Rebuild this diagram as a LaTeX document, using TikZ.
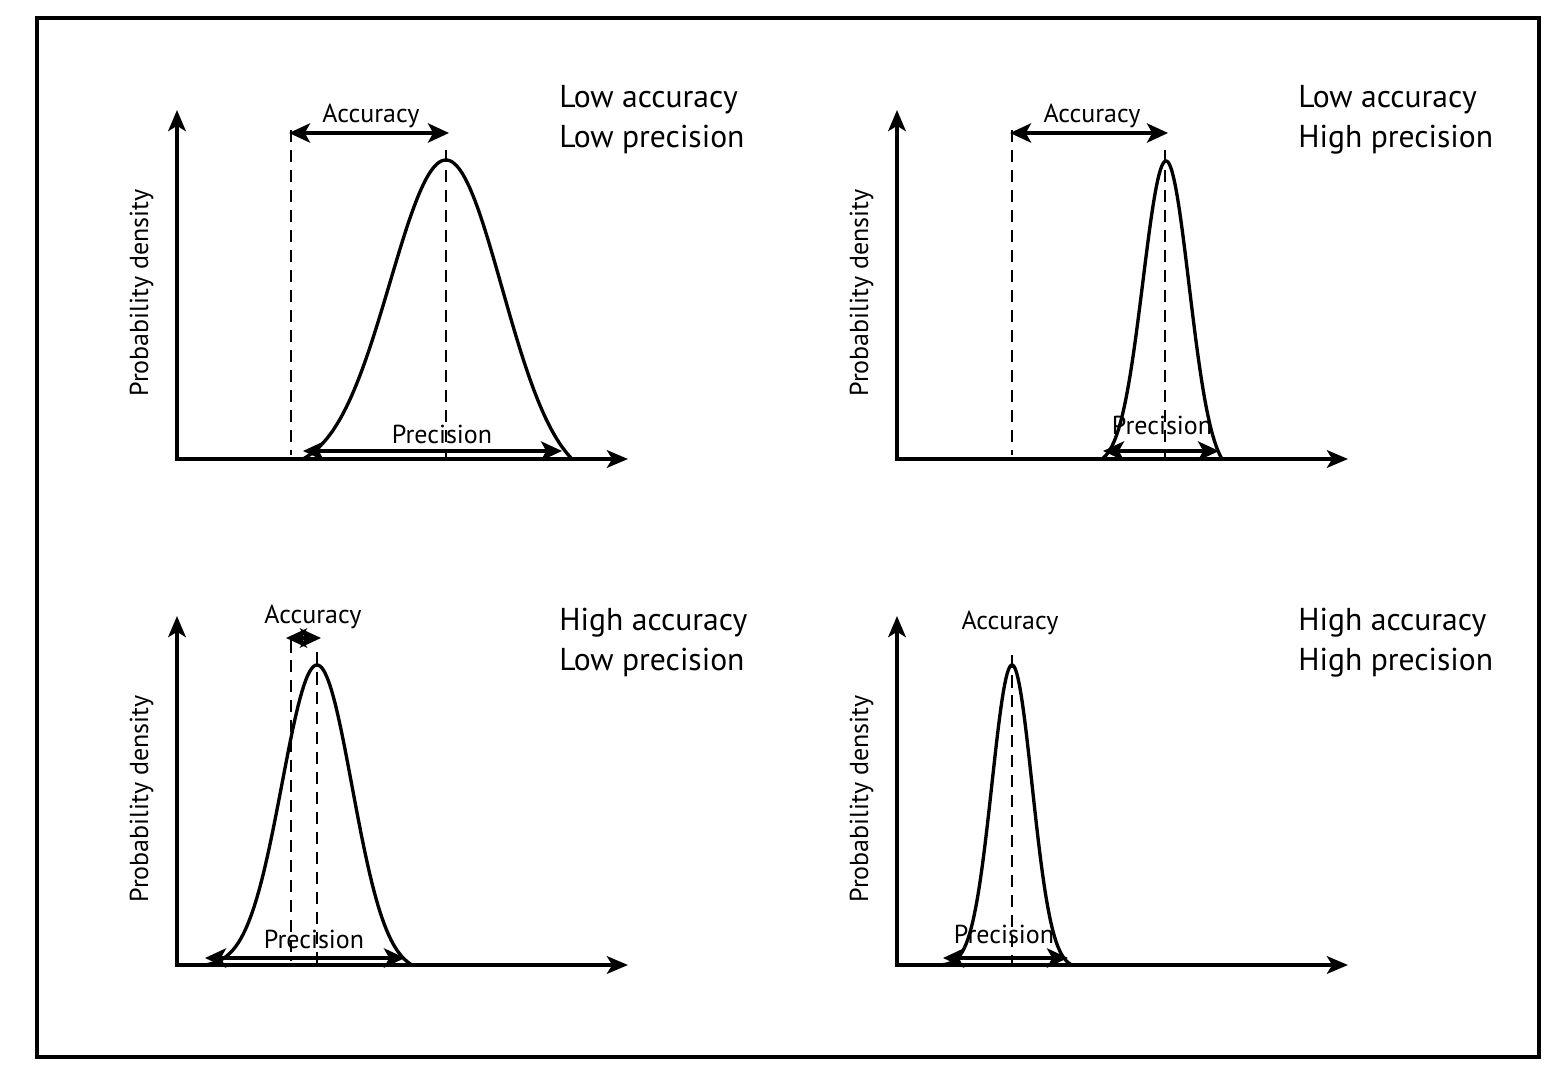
\documentclass[tikz,border=0pt]{standalone}
\usepackage{fontspec}
\setmainfont{PT Sans}
\usetikzlibrary{arrows.meta}

% bell curve: centre x, base y, height, sigma, left reach, right reach
\newcommand{\bell}[6]{%
\draw[curve] plot[domain=-#5:0, samples=60] ({#1+\x}, {#2-#3*(exp(-0.5*(\x/#4)*(\x/#4))-exp(-0.5*(#5/#4)*(#5/#4)))/(1-exp(-0.5*(#5/#4)*(#5/#4)))})
  -- plot[domain=0:#6, samples=60] ({#1+\x}, {#2-#3*(exp(-0.5*(\x/#4)*(\x/#4))-exp(-0.5*(#6/#4)*(#6/#4)))/(1-exp(-0.5*(#6/#4)*(#6/#4)))});
}

\begin{document}
\begin{tikzpicture}[x=0.02cm, y=-0.02cm,
  axis/.style={{Stealth[length=12pt,width=10pt,inset=3pt]}-{Stealth[length=12pt,width=10pt,inset=3pt]}, line width=2.1pt},
  span/.style={{Stealth[length=12pt,width=11pt,inset=3pt]}-{Stealth[length=12pt,width=11pt,inset=3pt]}, line width=1.9pt},
  curve/.style={line width=1.9pt, line join=round},
  guide/.style={line width=1.6pt, dash pattern=on 0.25cm off 0.15cm},
  lbl/.style={font=\fontsize{14.8}{17}\selectfont, inner sep=0pt, anchor=base},
  ttl/.style={font=\fontsize{18}{21}\selectfont, inner sep=0pt, anchor=base west}]
\useasboundingbox (0,0) rectangle (1561,1081);
\draw[line width=2pt] (37,18) rectangle (1539,1057);

% top left: low accuracy, low precision
\coordinate (o1) at (177,459);
\coordinate (ytop1) at (177,110);
\coordinate (xend1) at (628,459);
\draw[axis] (ytop1) -- (o1) -- (xend1);
\node[lbl, rotate=90] (yl1) at (148,293) {Probability density};
\bell{446}{459}{299}{56}{143}{126}
\coordinate (ref1a) at (291,130);
\coordinate (ref1b) at (291,455);
\coordinate (mid1a) at (446,150);
\coordinate (mid1b) at (446,457);
\draw[guide] (ref1a) -- (ref1b);
\draw[guide] (mid1a) -- (mid1b);
\coordinate (acc1l) at (289,133);
\coordinate (acc1r) at (449,133);
\draw[span] (acc1l) -- (acc1r);
\node[lbl] (acc1) at (371,123) {Accuracy};
\coordinate (pre1l) at (303,451);
\coordinate (pre1r) at (562,451);
\draw[span] (pre1l) -- (pre1r);
\node[lbl] (prec1) at (442,443) {Precision};
\node[ttl] (ttl1a) at (559,108) {Low accuracy};
\node[ttl] (ttl1b) at (559,148) {Low precision};

% top right: low accuracy, high precision
\coordinate (o2) at (897,459);
\coordinate (ytop2) at (897,110);
\coordinate (xend2) at (1348,459);
\draw[axis] (ytop2) -- (o2) -- (xend2);
\node[lbl, rotate=90] (yl2) at (868,293) {Probability density};
\bell{1166}{459}{298}{23}{64}{56}
\coordinate (ref2a) at (1012,130);
\coordinate (ref2b) at (1012,455);
\coordinate (mid2a) at (1165,150);
\coordinate (mid2b) at (1165,457);
\draw[guide] (ref2a) -- (ref2b);
\draw[guide] (mid2a) -- (mid2b);
\coordinate (acc2l) at (1010,133);
\coordinate (acc2r) at (1168,133);
\draw[span] (acc2l) -- (acc2r);
\node[lbl] (acc2) at (1092,123) {Accuracy};
\coordinate (pre2l) at (1103,451);
\coordinate (pre2r) at (1219,451);
\draw[span] (pre2l) -- (pre2r);
\node[lbl] (prec2) at (1162,434) {Precision};
\node[ttl] (ttl2a) at (1298,108) {Low accuracy};
\node[ttl] (ttl2b) at (1298,148) {High precision};

% bottom left: high accuracy, low precision
\coordinate (o3) at (177,965);
\coordinate (ytop3) at (177,616);
\coordinate (xend3) at (628,965);
\draw[axis] (ytop3) -- (o3) -- (xend3);
\node[lbl, rotate=90] (yl3) at (148,799) {Probability density};
\bell{317}{965}{300}{35}{112}{95}
\coordinate (ref3a) at (291,640);
\coordinate (ref3b) at (291,961);
\coordinate (mid3a) at (317,652);
\coordinate (mid3b) at (317,963);
\draw[guide] (ref3a) -- (ref3b);
\draw[guide] (mid3a) -- (mid3b);
\coordinate (acc3l) at (286,638);
\coordinate (acc3r) at (321,638);
\draw[span] (acc3l) -- (acc3r);
\node[lbl] (acc3) at (313,623) {Accuracy};
\coordinate (pre3l) at (205,958);
\coordinate (pre3r) at (405,958);
\draw[span] (pre3l) -- (pre3r);
\node[lbl] (prec3) at (314,948) {Precision};
\node[ttl] (ttl3a) at (559,630) {High accuracy};
\node[ttl] (ttl3b) at (559,670) {Low precision};

% bottom right: high accuracy, high precision
\coordinate (o4) at (897,965);
\coordinate (ytop4) at (897,616);
\coordinate (xend4) at (1348,965);
\draw[axis] (ytop4) -- (o4) -- (xend4);
\node[lbl, rotate=90] (yl4) at (868,799) {Probability density};
\bell{1012}{965}{300}{20}{72}{60}
\coordinate (mid4a) at (1012,655);
\coordinate (mid4b) at (1012,963);
\draw[guide] (mid4a) -- (mid4b);
\node[lbl] (acc4) at (1010,629) {Accuracy};
\coordinate (pre4l) at (943,958);
\coordinate (pre4r) at (1068,958);
\draw[span] (pre4l) -- (pre4r);
\node[lbl] (prec4) at (1004,943) {Precision};
\node[ttl] (ttl4a) at (1298,630) {High accuracy};
\node[ttl] (ttl4b) at (1298,670) {High precision};
\end{tikzpicture}
\end{document}
